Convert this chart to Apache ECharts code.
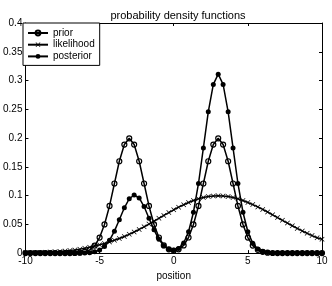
<!DOCTYPE html>
<html><head><meta charset="utf-8">
<script src="https://cdn.jsdelivr.net/npm/echarts@6/dist/echarts.min.js"></script>
<style>html,body{margin:0;padding:0;background:#fff}#c{width:332px;height:286px}</style>
</head><body><div id="c"></div>
<script>
var positions = [-10,-9.67,-9.33,-9,-8.67,-8.33,-8,-7.67,-7.33,-7,-6.67,-6.33,-6,-5.67,-5.33,-5,-4.67,-4.33,-4,-3.67,-3.33,-3,-2.67,-2.33,-2,-1.67,-1.33,-1,-0.67,-0.33,0,0.33,0.67,1,1.33,1.67,2,2.33,2.67,3,3.33,3.67,4,4.33,4.67,5,5.33,5.67,6,6.33,6.67,7,7.33,7.67,8,8.33,8.67,9,9.33,9.67,10];
var prior = [0,0,0,0,0,0,0,0,0,0.0001,0.0002,0.0008,0.0022,0.0057,0.0131,0.0270,0.0498,0.0820,0.1210,0.1597,0.1887,0.1995,0.1887,0.1597,0.1210,0.0820,0.0498,0.0271,0.0134,0.0065,0.0044,0.0065,0.0134,0.0271,0.0498,0.0820,0.1210,0.1597,0.1887,0.1995,0.1887,0.1597,0.1210,0.0820,0.0498,0.0270,0.0131,0.0057,0.0022,0.0008,0.0002,0.0001,0,0,0,0,0,0,0,0,0];
var likelihood = [0.0005,0.0007,0.0009,0.0011,0.0014,0.0018,0.0023,0.0029,0.0036,0.0045,0.0056,0.0069,0.0085,0.0102,0.0122,0.0145,0.0168,0.0194,0.0222,0.0253,0.0288,0.0326,0.0367,0.0411,0.0457,0.0505,0.0555,0.0605,0.0655,0.0705,0.0753,0.0799,0.0841,0.0880,0.0915,0.0944,0.0967,0.0984,0.0994,0.0997,0.0994,0.0984,0.0967,0.0944,0.0915,0.0880,0.0843,0.0803,0.0760,0.0714,0.0666,0.0618,0.0570,0.0522,0.0475,0.0429,0.0385,0.0343,0.0304,0.0267,0.0240];
var posterior = [0,0,0,0,0,0,0,0,0,0,0,0.0001,0.0003,0.0008,0.0022,0.0053,0.0116,0.0223,0.0382,0.0581,0.0787,0.0945,0.1010,0.0958,0.0809,0.0606,0.0404,0.0240,0.0129,0.0068,0.0050,0.0080,0.0175,0.0372,0.0711,0.1210,0.1828,0.2456,0.2932,0.3110,0.2932,0.2456,0.1828,0.1210,0.0711,0.0371,0.0172,0.0071,0.0026,0.0009,0.0003,0.0001,0,0,0,0,0,0,0,0,0];
var seriesNames = ['prior','likelihood','posterior'];
var titleText = 'probability density functions';
var xLabel = 'position';

function pairs(ys){ return positions.map(function(x,i){ return [x, ys[i]]; }); }
var FONT = 'Liberation Sans, Arial, sans-serif';
var crossPath = 'path://M0,1 L1,0 L5,4 L9,0 L10,1 L6,5 L10,9 L9,10 L5,6 L1,10 L0,9 L4,5 Z';
var chart = echarts.init(document.getElementById('c'), null, {renderer:'canvas'});
var lineBase = {color:'#000', width:1.5};
var tick = {inside:true, length:3, lineStyle:{color:'#000'}};
var aline = {show:true, onZero:false, lineStyle:{color:'#000', width:1}};
chart.setOption({
  animation:false,
  backgroundColor:'#fff',
  textStyle:{fontFamily:FONT},
  title:{text:titleText, left:173, top:5, textAlign:'center',
    textStyle:{fontSize:11, fontWeight:'normal', color:'#000', fontFamily:FONT}},
  grid:{left:22, right:10, top:23, bottom:27, show:false},
  legend:{orient:'vertical', left:23, top:23, data:seriesNames,
    backgroundColor:'#fff', borderColor:'#000', borderWidth:1, borderRadius:0,
    padding:[5,5,4,4], itemGap:1.7, itemWidth:20, itemHeight:6,
    textStyle:{fontSize:10, lineHeight:10, color:'#000', fontFamily:FONT}},
  xAxis:[{type:'value', min:-10, max:10, interval:5, position:'bottom',
      axisLine:aline, axisTick:tick,
      axisLabel:{fontSize:10, color:'#000', margin:3, fontFamily:FONT},
      splitLine:{show:false},
      name:xLabel, nameLocation:'middle', nameGap:14,
      nameTextStyle:{fontSize:10, color:'#000', fontFamily:FONT}},
    {type:'value', min:-10, max:10, interval:5, position:'top',
      axisLine:aline, axisTick:tick,
      axisLabel:{show:false}, splitLine:{show:false}}],
  yAxis:[{type:'value', min:0, max:0.4, interval:0.05, position:'left',
      axisLine:aline, axisTick:tick,
      axisLabel:{fontSize:10, color:'#000', margin:3, fontFamily:FONT,
        formatter:function(v){ return String(Math.round(v*100)/100); }},
      splitLine:{show:false}},
    {type:'value', min:0, max:0.4, interval:0.05, position:'right',
      axisLine:aline, axisTick:tick,
      axisLabel:{show:false}, splitLine:{show:false}}],
  series:[
    {name:seriesNames[0], type:'line', data:pairs(prior), symbol:'circle', symbolSize:5,
      showAllSymbol:true, lineStyle:lineBase,
      itemStyle:{color:'rgba(255,255,255,0)', borderColor:'#000', borderWidth:1.2}, z:3},
    {name:seriesNames[1], type:'line', data:pairs(likelihood), symbol:crossPath, symbolSize:5,
      showAllSymbol:true, lineStyle:lineBase,
      itemStyle:{color:'#000', borderWidth:0}, z:2},
    {name:seriesNames[2], type:'line', data:pairs(posterior), symbol:'circle', symbolSize:5,
      showAllSymbol:true, lineStyle:lineBase,
      itemStyle:{color:'#000'}, z:4}
  ]
});
</script></body></html>
